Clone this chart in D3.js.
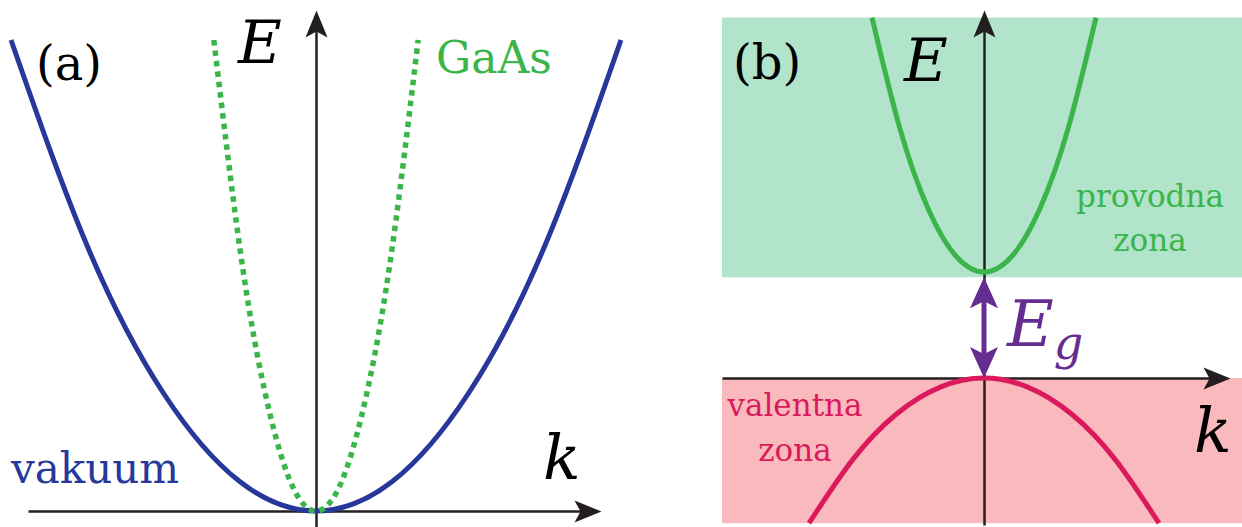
<!DOCTYPE html>
<html lang="en">
<head>
    <meta charset="utf-8">
    <title>E(k) disperzija</title>
    <style>
        html, body {
            margin: 0;
            padding: 0;
            background: #fff;
        }
        svg {
            display: block;
        }
        .math {
            font-style: italic;
        }
    </style>
</head>
<body>
<svg class="chart"></svg>
<script src="https://d3js.org/d3.v7.min.js"></script>
<script>
    const chartWidth = 1242;
    const chartHeight = 527;

    // (a) vakuum vs GaAs, E in units of the plotted top
    const kVakuum = [-1, -0.75, -0.5, -0.25, 0, 0.25, 0.5, 0.75, 1];
    const eVakuum = [1, 0.5625, 0.25, 0.0625, 0, 0.0625, 0.25, 0.5625, 1];
    const kGaAs = [-0.335, -0.25, -0.17, -0.085, 0, 0.085, 0.17, 0.25, 0.335];
    const eGaAs = [1, 0.56, 0.26, 0.064, 0, 0.064, 0.26, 0.56, 1];

    // (b) poluvodič: E = 0 at top of valence band, E = 1 is the gap
    const kCond = [-0.64, -0.48, -0.32, -0.16, 0, 0.16, 0.32, 0.48, 0.64];
    const eCond = [3.4, 2.35, 1.6, 1.15, 1, 1.15, 1.6, 2.35, 3.4];
    const kVal = [-1, -0.75, -0.5, -0.25, 0, 0.25, 0.5, 0.75, 1];
    const eVal = [-1.37, -0.77, -0.34, -0.086, 0, -0.086, -0.34, -0.77, -1.37];
    const bandNames = ["provodna", "valentna"];
    const bandTop = [3.4, 0];
    const bandBottom = [0.95, -1.37];
    const gap = [0.95, 0];

    const serif = "DejaVu Serif, serif";

    const colors = {
        vakuum: "#28389a",
        gaas: "#3bb54a",
        cond: "#3bb54a",
        condFill: "#b2e3cb",
        val: "#da1a5c",
        valFill: "#f9b9bd",
        gap: "#662d91",
        axis: "#231f20"
    };

    var svg = d3.select("svg").attr("width", chartWidth).attr("height", chartHeight);

    // arrow heads
    var defs = svg.append("defs");
    function arrow(id, color, len, half, notch) {
        defs.append("marker")
            .attr("id", id)
            .attr("markerUnits", "userSpaceOnUse")
            .attr("viewBox", (-len - 2) + " " + (-half - 2) + " " + (len + 16) + " " + (2 * half + 4))
            .attr("markerWidth", len + 16)
            .attr("markerHeight", 2 * half + 4)
            .attr("refX", 0)
            .attr("refY", 0)
            .attr("orient", "auto-start-reverse")
            .append("path")
            .attr("d", "M10,0 L" + (10 - len) + "," + (-half) + " L" + (10 - len + notch) + ",0 L" + (10 - len) + "," + half + " Z")
            .attr("fill", color);
    }
    arrow("ax", colors.axis, 27, 11, 6);
    arrow("gp", colors.gap, 31, 14, 7);

    //---------------- panel (a)
    var xA = d3.scaleLinear().domain([-1, 1]).range([11, 621]);
    var yA = d3.scaleLinear().domain([0, 1]).range([511, 40]);
    var ga = svg.append("g").attr("class", "panel-a");

    ga.append("g")
        .attr("transform", "translate(0," + yA(0) + ")")
        .call(d3.axisBottom(d3.scaleLinear().range([28, 591])).tickValues([]).tickSizeOuter(0));
    ga.append("g")
        .attr("transform", "translate(" + xA(0) + ",0)")
        .call(d3.axisLeft(d3.scaleLinear().range([527, 20])).tickValues([]).tickSizeOuter(0));

    var lineA = d3.line()
        .x(function(d){ return xA(d[0]); })
        .y(function(d){ return yA(d[1]); })
        .curve(d3.curveNatural);

    ga.append("path")
        .datum(d3.zip(kVakuum, eVakuum))
        .attr("d", lineA)
        .attr("fill", "none")
        .attr("stroke", colors.vakuum)
        .attr("stroke-width", 5);
    ga.append("path")
        .datum(d3.zip(kGaAs, eGaAs))
        .attr("d", lineA)
        .attr("fill", "none")
        .attr("stroke", colors.gaas)
        .attr("stroke-width", 5.5)
        .attr("stroke-dasharray", "5.5,5");

    ga.append("text").attr("x", 36).attr("y", 80).attr("font-size", 48).text("(a)");
    ga.append("text").attr("class", "math").attr("x", 238).attr("y", 63).attr("font-size", 60).text("E");
    ga.append("text").attr("x", 436).attr("y", 73).attr("font-size", 44).attr("fill", colors.gaas).text("GaAs");
    ga.append("text").attr("x", 11).attr("y", 483).attr("font-size", 42).attr("fill", colors.vakuum).text("vakuum");
    ga.append("text").attr("class", "math").attr("x", 543).attr("y", 479).attr("font-size", 62).text("k");

    //---------------- panel (b)
    var xB = d3.scaleLinear().domain([-1, 1]).range([809, 1159]);
    var yB = d3.scaleLinear().domain([0, 1]).range([378, 272]);
    var gb = svg.append("g").attr("class", "panel-b");

    gb.selectAll(".band")
        .data(bandNames)
        .enter()
        .append("rect")
        .attr("class", "band")
        .attr("x", 722)
        .attr("width", chartWidth - 722)
        .attr("y", function(d, i){ return yB(bandTop[i]); })
        .attr("height", function(d, i){ return yB(bandBottom[i]) - yB(bandTop[i]); })
        .attr("fill", function(d, i){ return i === 0 ? colors.condFill : colors.valFill; });

    gb.append("g")
        .attr("transform", "translate(0," + yB(0) + ")")
        .call(d3.axisBottom(d3.scaleLinear().range([722, 1220])).tickValues([]).tickSizeOuter(0));
    gb.append("g")
        .attr("transform", "translate(" + xB(0) + ",0)")
        .call(d3.axisLeft(d3.scaleLinear().range([525, 20])).tickValues([]).tickSizeOuter(0));

    var lineB = d3.line()
        .x(function(d){ return xB(d[0]); })
        .y(function(d){ return yB(d[1]); })
        .curve(d3.curveNatural);

    gb.append("path")
        .datum(d3.zip(kCond, eCond))
        .attr("d", lineB)
        .attr("fill", "none")
        .attr("stroke", colors.cond)
        .attr("stroke-width", 5);
    gb.append("path")
        .datum(d3.zip(kVal, eVal))
        .attr("d", lineB)
        .attr("fill", "none")
        .attr("stroke", colors.val)
        .attr("stroke-width", 5);

    // energy gap arrow
    gb.append("line")
        .attr("x1", xB(0)).attr("x2", xB(0))
        .attr("y1", yB(gap[0]) + 10).attr("y2", yB(gap[1]) - 10)
        .attr("stroke", colors.gap)
        .attr("stroke-width", 5)
        .attr("marker-start", "url(#gp)")
        .attr("marker-end", "url(#gp)");

    var eg = gb.append("text").attr("x", 1007).attr("y", 346).attr("font-size", 64).attr("fill", colors.gap).attr("class", "math");
    eg.append("tspan").text("E");
    eg.append("tspan").attr("dy", 13).attr("font-size", 46).text("g");

    gb.append("text").attr("x", 733).attr("y", 79).attr("font-size", 48).text("(b)");
    gb.append("text").attr("class", "math").attr("x", 904).attr("y", 81).attr("font-size", 60).text("E");
    gb.append("text").attr("class", "math").attr("x", 1194).attr("y", 452).attr("font-size", 62).text("k");

    gb.selectAll(".cond-label")
        .data(["provodna", "zona"])
        .enter()
        .append("text")
        .attr("x", 1150)
        .attr("y", function(d, i){ return 207 + i * 44; })
        .attr("text-anchor", "middle")
        .attr("font-size", 31)
        .attr("fill", colors.cond)
        .text(function(d){ return d; });
    gb.selectAll(".val-label")
        .data(["valentna", "zona"])
        .enter()
        .append("text")
        .attr("x", 795)
        .attr("y", function(d, i){ return 416 + i * 45; })
        .attr("text-anchor", "middle")
        .attr("font-size", 31)
        .attr("fill", colors.val)
        .text(function(d){ return d; });

    svg.selectAll("text").attr("font-family", serif);

    // plain axis look
    svg.selectAll(".domain")
        .attr("stroke", colors.axis)
        .attr("stroke-width", 2.5)
        .attr("marker-end", "url(#ax)");
</script>
</body>
</html>
